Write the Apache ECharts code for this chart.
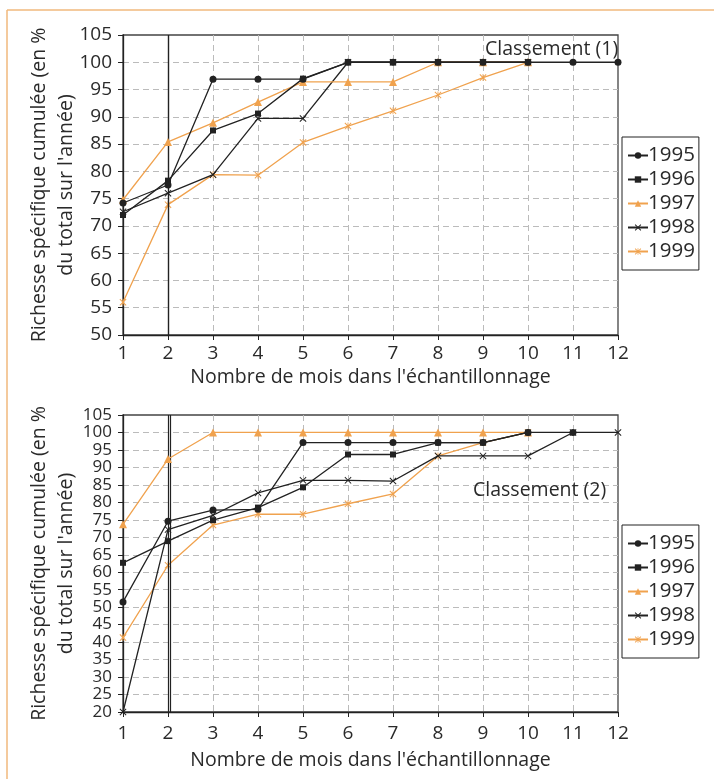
<!DOCTYPE html>
<html>
<head>
<meta charset="utf-8">
<script src="https://cdn.jsdelivr.net/npm/echarts@6/dist/echarts.min.js"></script>
<style>
  html, body { margin: 0; padding: 0; background: #fff; }
  #chart { width: 714px; height: 779px; }
</style>
</head>
<body>
<div id="chart"></div>
<script>
const months = [1, 2, 3, 4, 5, 6, 7, 8, 9, 10, 11, 12]
const years = ['1995', '1996', '1997', '1998', '1999']

// Classement (1)
const top1995 = [74.2, 77.5, 96.9, 96.9, 96.9, 100, 100, 100, 100, 100, 100, 100]
const top1996 = [72.0, 78.3, 87.5, 90.6, 97.0, 100, 100, 100, 100, 100]
const top1997 = [74.8, 85.4, 88.9, 92.7, 96.4, 96.4, 96.4, 100, 100, 100]
const top1998 = [72.6, 76.0, 79.4, 89.7, 89.7, 100, 100, 100, 100, 100]
const top1999 = [56.0, 73.9, 79.4, 79.3, 85.3, 88.3, 91.1, 94.0, 97.2, 100]

// Classement (2)
const bot1995 = [51.5, 74.6, 77.8, 78.0, 97.1, 97.1, 97.1, 97.1, 97.1, 100, 100]
const bot1996 = [62.7, 68.9, 74.9, 78.5, 84.3, 93.7, 93.7, 97.1, 97.1, 100]
const bot1997 = [73.7, 92.4, 100, 100, 100, 100, 100, 100, 100, 100]
const bot1998 = [20, 72.2, 76.3, 82.7, 86.3, 86.3, 86.1, 93.3, 93.3, 93.3, 100, 100]
const bot1999 = [41.3, 62.0, 73.5, 76.6, 76.6, 79.6, 82.4, 93.3, 97.1, 100]

// vertical reference lines at month 2
const markTop = [2]
const markBottom = [2, 2.065]

const BLACK = '#222'
const ORANGE = '#f0a24e'
const TEXT = '#2a2a2a'
const FONT = 'Open Sans'
const crossPath = 'path://M0,1L1,0L5,4L9,0L10,1L6,5L10,9L9,10L5,6L1,10L0,9L4,5Z'
const starPath = 'path://M0,1L1,0L4.4,3.4L4.4,0L5.6,0L5.6,3.4L9,0L10,1L6.6,4.4L6.6,5.6L10,9L9,10L5.6,6.6L5.6,10L4.4,10L4.4,6.6L1,10L0,9L3.4,5.6L3.4,4.4Z'

const styles = [
  { color: BLACK, symbol: 'circle', size: 7 },
  { color: BLACK, symbol: 'rect', size: 6 },
  { color: ORANGE, symbol: 'triangle', size: 8 },
  { color: BLACK, symbol: crossPath, size: 7 },
  { color: ORANGE, symbol: starPath, size: 7 }
]

const topData = [top1995, top1996, top1997, top1998, top1999]
const botData = [bot1995, bot1996, bot1997, bot1998, bot1999]

function pairs(values) {
  return values.map((v, i) => [months[i], v])
}

function makeSeries(dataSets, idx, marks) {
  const list = dataSets.map((values, i) => ({
    name: years[i],
    type: 'line',
    xAxisIndex: idx,
    yAxisIndex: idx,
    symbol: styles[i].symbol,
    symbolSize: styles[i].size,
    showAllSymbol: true,
    z: 8 - i, // 1995 drawn on top, as in the original
    lineStyle: { width: 1.3, color: styles[i].color },
    itemStyle: { color: styles[i].color },
    data: pairs(values)
  }))
  list[0].markLine = {
    silent: true,
    symbol: 'none',
    animation: false,
    label: { show: false },
    lineStyle: { type: 'solid', color: BLACK, width: marks.length > 1 ? 1.2 : 1.4 },
    data: marks.map((m) => ({ xAxis: m }))
  }
  return list
}

const gridLine = { show: true, showMinLine: false, showMaxLine: false, lineStyle: { type: [6, 4], color: '#bbb', width: 1 } }

function xAxisFor(idx, margin, gap) {
  return {
    type: 'value',
    gridIndex: idx,
    min: 1,
    max: 12,
    interval: 1,
    name: "Nombre de mois dans l'échantillonnage",
    nameLocation: 'middle',
    nameGap: gap,
    nameMoveOverlap: false,
    nameTextStyle: { fontFamily: FONT, fontSize: 19.5, color: TEXT },
    axisLine: { show: true, onZero: false, lineStyle: { color: BLACK, width: 1.3 } },
    axisTick: { show: true, length: 5, lineStyle: { color: BLACK } },
    axisLabel: { margin: margin, fontFamily: FONT, fontSize: 19, color: TEXT },
    splitLine: gridLine
  }
}

function yAxisFor(idx, min, fontSize) {
  return {
    type: 'value',
    gridIndex: idx,
    min: min,
    max: 105,
    interval: 5,
    name: "Richesse spécifique cumulée (en %\ndu total sur l'année)",
    nameLocation: 'middle',
    nameRotate: 90,
    nameGap: 43,
    nameMoveOverlap: false,
    nameTextStyle: { fontFamily: FONT, fontSize: 19.5, lineHeight: 27, color: TEXT },
    axisLine: { show: true, lineStyle: { color: BLACK, width: 1.3 } },
    axisTick: { show: true, length: 5, lineStyle: { color: BLACK } },
    axisLabel: { margin: 11, fontFamily: FONT, fontSize: fontSize, color: TEXT },
    splitLine: gridLine
  }
}

function legendFor(top) {
  return {
    data: years,
    orient: 'vertical',
    left: 622,
    top: top,
    itemWidth: 20,
    itemHeight: 8,
    itemGap: 3,
    padding: [8, 4, 8, 5],
    borderColor: BLACK,
    borderWidth: 1,
    backgroundColor: '#fff',
    selectedMode: false,
    textStyle: { fontFamily: FONT, fontSize: 20.5, lineHeight: 20, color: TEXT, padding: [0, 0, 0, -5] }
  }
}

const chart = echarts.init(document.getElementById('chart'))
chart.setOption({
  animation: false,
  grid: [
    { left: 123, top: 35, width: 495, height: 300, show: true, borderColor: '#444', borderWidth: 1.3 },
    { left: 123, top: 415, width: 495, height: 297, show: true, borderColor: '#444', borderWidth: 1.3 }
  ],
  xAxis: [xAxisFor(0, 9, 32), xAxisFor(1, 12, 38)],
  yAxis: [yAxisFor(0, 50, 19), yAxisFor(1, 20, 17)],
  legend: [legendFor(137), legendFor(525)],
  graphic: [
    { type: 'line', shape: { x1: 7, y1: 10, x2: 714, y2: 10 }, style: { stroke: '#f0b87c', lineWidth: 1.5 } },
    { type: 'line', shape: { x1: 7, y1: 10, x2: 7, y2: 779 }, style: { stroke: '#f0b87c', lineWidth: 1.5 } },
    { type: 'text', left: 485, top: 39, z: 10, style: { text: 'Classement (1)', font: '19.5px "Open Sans"', fill: TEXT } },
    { type: 'text', left: 473, top: 480, z: 10, style: { text: 'Classement (2)', font: '19.5px "Open Sans"', fill: TEXT } }
  ],
  series: [...makeSeries(topData, 0, markTop), ...makeSeries(botData, 1, markBottom)]
})
</script>
</body>
</html>
